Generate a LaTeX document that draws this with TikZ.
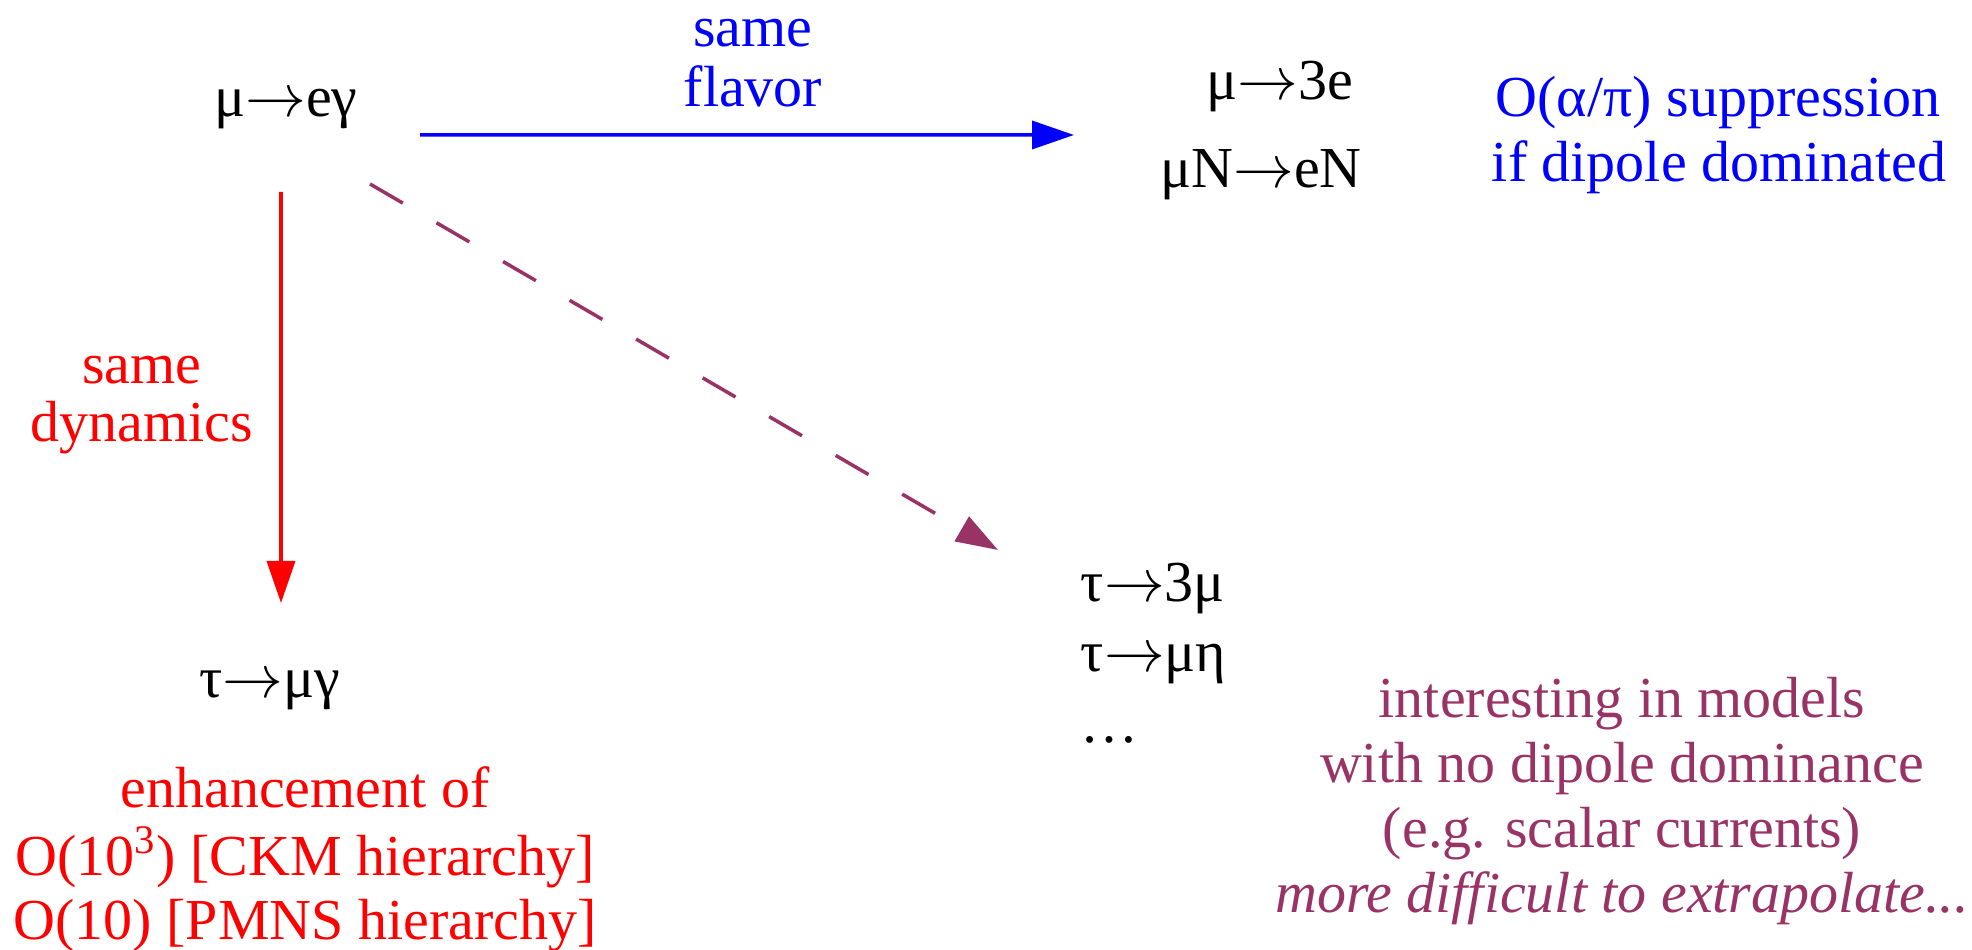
\documentclass[tikz,border=0pt]{standalone}
\usepackage{fontspec}
\setmainfont{Liberation Serif}
\usetikzlibrary{arrows.meta,positioning}
\definecolor{flavblue}{RGB}{0,0,255}
\definecolor{dynred}{RGB}{255,0,0}
\definecolor{otherpurple}{RGB}{153,51,102}
\newcommand{\decayto}{$\rightarrow$}
\tikzset{
  proc/.style={font=\fontsize{16.5}{18.8}\selectfont,inner sep=0pt,anchor=base},
  flavtxt/.style={proc,text=flavblue},
  dyntxt/.style={proc,text=dynred},
  othertxt/.style={proc,text=otherpurple},
  link/.style={line width=1pt,-{Triangle[length=4.2mm,width=2.8mm]}}
}
\begin{document}
\begin{tikzpicture}
\useasboundingbox (0,0) rectangle (19.72,9.5);
% processes
\node[proc] (meg) at (2.86,8.33) {μ\decayto eγ};
\node[proc] (m3e) at (12.80,8.50) {μ\decayto 3e};
\node[proc] (mNeN) at (12.61,7.62) {μN\decayto eN};
\node[proc] (tmg) at (2.70,2.52) {τ\decayto μγ};
\node[proc,anchor=base west] (t3m) at (10.80,3.48) {τ\decayto 3μ};
\node[proc,anchor=base west] (tmeta) at (10.80,2.78) {τ\decayto μη};
\node[proc,anchor=base west] (tdots) at (10.80,2.07) {…};
% labels
\node[flavtxt] (sflav1) at (7.53,9.03) {same};
\node[flavtxt] (sflav2) at (7.53,8.43) {flavor};
\node[flavtxt] (supp1) at (17.18,8.33) {O(α/π) suppression};
\node[flavtxt] (supp2) at (17.19,7.68) {if dipole dominated};
\node[dyntxt] (sdyn1) at (1.42,5.66) {same};
\node[dyntxt] (sdyn2) at (1.42,5.08) {dynamics};
\foreach \i/\y/\txt in {1/1.42/enhancement of,2/0.74/O(10\textsuperscript{3}) [CKM hierarchy],3/0.10/O(10) [PMNS hierarchy]}
  \node[dyntxt] (enh\i) at (3.05,\y) {\txt};
\foreach \i/\y/\txt in {1/2.32/interesting in models,2/1.67/with no dipole dominance,3/1.02/(e.g. scalar currents),4/0.37/{\itshape more difficult to extrapolate...}}
  \node[othertxt] (int\i) at (16.22,\y) {\txt};
% arrows
\draw[link,flavblue] ([xshift=1.34cm,yshift=-0.18cm]meg.base) -- ([xshift=-2.06cm,yshift=-0.35cm]m3e.base);
\draw[link,dynred] ([xshift=-0.05cm,yshift=-0.75cm]meg.base) -- ([xshift=0.11cm,yshift=0.95cm]tmg.base);
\draw[link,otherpurple,dash pattern=on 0.38cm off 0.39cm] ([xshift=0.84cm,yshift=-0.67cm]meg.base) -- ([xshift=-0.82cm,yshift=0.52cm]t3m.base west);
\end{tikzpicture}
\end{document}
